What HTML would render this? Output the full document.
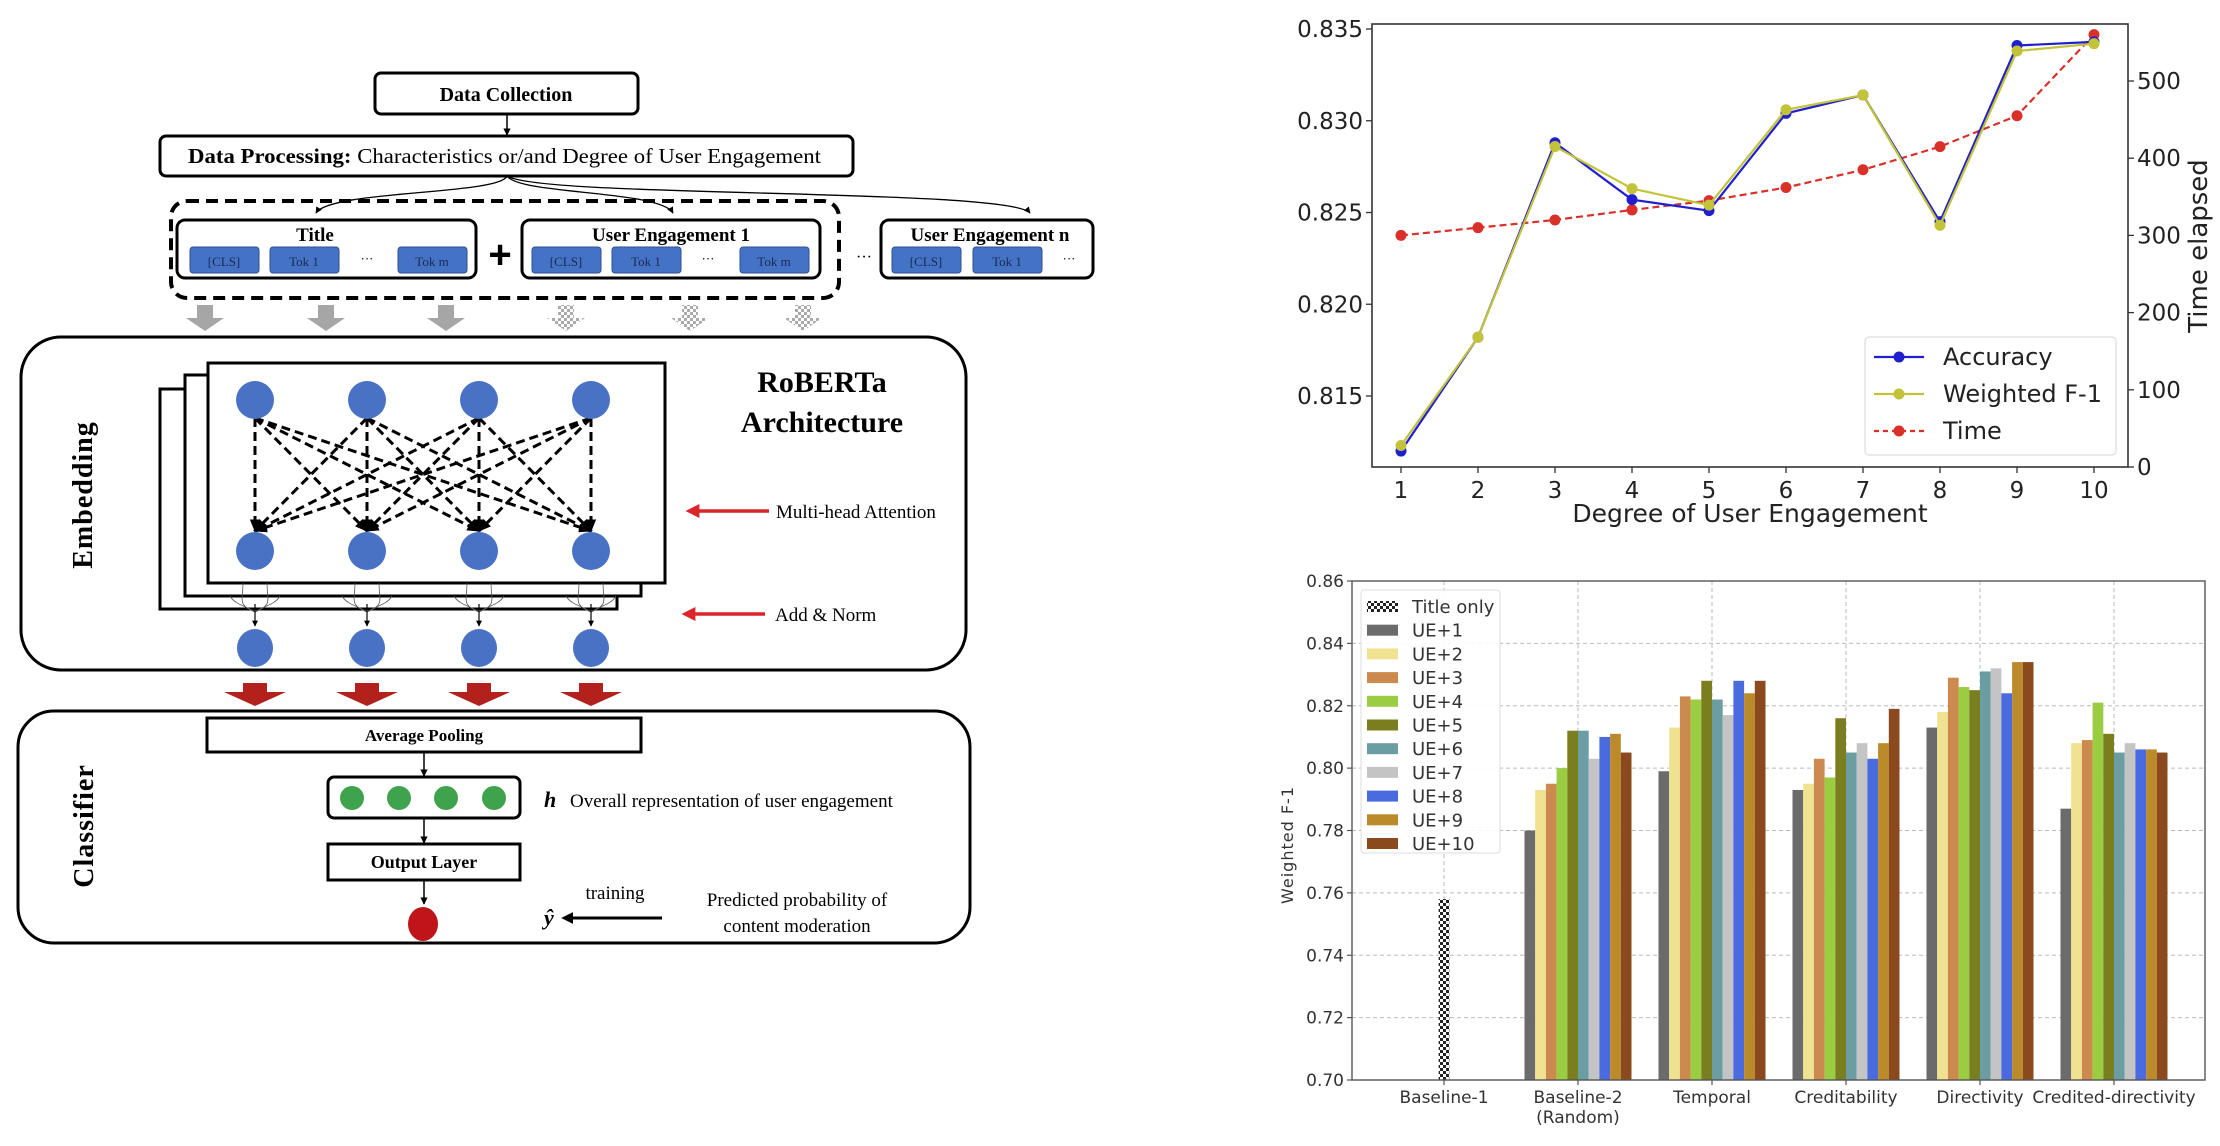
<!DOCTYPE html>
<html><head><meta charset="utf-8">
<style>
html,body{margin:0;padding:0;background:#fff;}
svg{display:block;}
.serif{font-family:"Liberation Serif",serif;}
.sans{font-family:"Liberation Sans Narrow","DejaVu Sans","Liberation Sans",sans-serif;}
</style></head>
<body>
<svg id="root" width="2220" height="1146" viewBox="0 0 2220 1146" xmlns="http://www.w3.org/2000/svg">
<defs>
<marker id="ah" viewBox="0 0 10 10" refX="9" refY="5" markerWidth="5" markerHeight="5" orient="auto"><path d="M0,0 L10,5 L0,10 z" fill="#000"/></marker>
<marker id="ahs" viewBox="0 0 10 10" refX="9" refY="5" markerUnits="userSpaceOnUse" markerWidth="13" markerHeight="13" orient="auto"><path d="M0,1 L10,5 L0,9 z" fill="#000"/></marker>
<marker id="ahr" viewBox="0 0 10 10" refX="1" refY="5" markerWidth="4" markerHeight="4" orient="auto-start-reverse"><path d="M0,0 L10,5 L0,10 z" fill="#d9262a"/></marker>
<marker id="ahk" viewBox="0 0 10 10" refX="1" refY="5" markerWidth="4" markerHeight="4" orient="auto-start-reverse"><path d="M0,0 L10,5 L0,10 z" fill="#000"/></marker>
<pattern id="checker" width="6" height="6" patternUnits="userSpaceOnUse"><rect width="6" height="6" fill="#fff"/><rect width="3" height="3" fill="#222"/><rect x="3" y="3" width="3" height="3" fill="#222"/></pattern>
<pattern id="checkerg" width="6" height="6" patternUnits="userSpaceOnUse"><rect width="6" height="6" fill="#fff"/><rect width="3" height="3" fill="#aaa"/><rect x="3" y="3" width="3" height="3" fill="#aaa"/></pattern>
</defs>

<g id="diagram" class="serif">
  <g>
    <rect x="375" y="73" width="263" height="41" rx="6" fill="#fff" stroke="#000" stroke-width="3"/>
    <text x="506" y="101" font-size="20" font-weight="bold" text-anchor="middle">Data Collection</text>
  </g>
  <line x1="507" y1="114" x2="507" y2="135" stroke="#000" stroke-width="1.5" marker-end="url(#ah)"/>
  <g>
    <rect x="160" y="136" width="693" height="40" rx="6" fill="#fff" stroke="#000" stroke-width="3"/>
    <text x="188" y="163" font-size="21" textLength="633" lengthAdjust="spacingAndGlyphs"><tspan font-weight="bold">Data Processing:</tspan> Characteristics or/and Degree of User Engagement</text>
  </g>
  <path d="M507,176 C500,195 330,190 316,213" fill="none" stroke="#000" stroke-width="1.3" marker-end="url(#ah)"/>
  <path d="M507,176 C520,195 660,190 673,213" fill="none" stroke="#000" stroke-width="1.3" marker-end="url(#ah)"/>
  <path d="M507,176 C540,198 1010,188 1030,213" fill="none" stroke="#000" stroke-width="1.3" marker-end="url(#ah)"/>

  <rect x="171" y="201" width="668" height="97" rx="16" fill="none" stroke="#000" stroke-width="4" stroke-dasharray="12,7"/>

  <g>
    <rect x="177" y="220" width="299" height="58" rx="8" fill="#fff" stroke="#000" stroke-width="3"/>
    <text x="315" y="241" font-size="19" font-weight="bold" text-anchor="middle">Title</text>
  </g>
  <g>
    <rect x="522" y="220" width="298" height="58" rx="8" fill="#fff" stroke="#000" stroke-width="3"/>
    <text x="671" y="241" font-size="19" font-weight="bold" text-anchor="middle">User Engagement 1</text>
  </g>
  <g>
    <rect x="881" y="220" width="212" height="58" rx="8" fill="#fff" stroke="#000" stroke-width="3"/>
    <text x="990" y="241" font-size="19" font-weight="bold" text-anchor="middle">User Engagement n</text>
  </g>
  <text x="500" y="268" font-size="40" font-weight="bold" text-anchor="middle" font-family="Liberation Sans,sans-serif">+</text>
  <text x="864" y="262" font-size="16" text-anchor="middle">···</text>
  <g id="tokens"></g>

  <g id="grayArrows"></g>

  <g>
    <rect x="21" y="337" width="945" height="333" rx="40" fill="#fff" stroke="#000" stroke-width="3"/>
    <text transform="translate(92,495) rotate(-90)" font-size="28" font-weight="bold" text-anchor="middle" letter-spacing="1">Embedding</text>
  </g>
  <rect x="160" y="389" width="457" height="220" fill="#fff" stroke="#000" stroke-width="3"/>
  <rect x="185" y="375" width="456" height="221" fill="#fff" stroke="#000" stroke-width="3"/>
  <rect x="208" y="363" width="457" height="220" fill="#fff" stroke="#000" stroke-width="3"/>
  <g id="attn"></g>
  <text x="822" y="392" font-size="30" font-weight="bold" text-anchor="middle">RoBERTa</text>
  <text x="822" y="432" font-size="30" font-weight="bold" text-anchor="middle">Architecture</text>
  <line x1="769" y1="511" x2="698" y2="511" stroke="#d9262a" stroke-width="3.5" marker-end="url(#ahr)"/>
  <text x="776" y="518" font-size="19">Multi-head Attention</text>
  <line x1="765" y1="614" x2="694" y2="614" stroke="#d9262a" stroke-width="3.5" marker-end="url(#ahr)"/>
  <text x="775" y="621" font-size="19">Add &amp; Norm</text>
  <g id="redArrows"></g>

  <g>
    <rect x="18" y="711" width="952" height="232" rx="36" fill="#fff" stroke="#000" stroke-width="3"/>
    <text transform="translate(93,826) rotate(-90)" font-size="28" font-weight="bold" text-anchor="middle" letter-spacing="1">Classifier</text>
  </g>
  <rect x="207" y="718" width="434" height="34" fill="#fff" stroke="#000" stroke-width="3"/>
  <text x="424" y="741" font-size="17" font-weight="bold" text-anchor="middle">Average Pooling</text>
  <line x1="424" y1="752" x2="424" y2="776" stroke="#000" stroke-width="1.5" marker-end="url(#ah)"/>
  <rect x="328" y="777" width="192" height="41" rx="6" fill="#fff" stroke="#000" stroke-width="3"/>
  <circle cx="352" cy="798" r="12" fill="#3fa34d"/><circle cx="399" cy="798" r="12" fill="#3fa34d"/>
  <circle cx="446" cy="798" r="12" fill="#3fa34d"/><circle cx="494" cy="798" r="12" fill="#3fa34d"/>
  <text x="544" y="807" font-size="22" font-weight="bold" font-style="italic">h</text>
  <text x="570" y="807" font-size="19">Overall representation of user engagement</text>
  <line x1="424" y1="818" x2="424" y2="843" stroke="#000" stroke-width="1.5" marker-end="url(#ah)"/>
  <rect x="328" y="844" width="192" height="36" fill="#fff" stroke="#000" stroke-width="3"/>
  <text x="424" y="868" font-size="18" font-weight="bold" text-anchor="middle">Output Layer</text>
  <line x1="424" y1="880" x2="424" y2="904" stroke="#000" stroke-width="1.5" marker-end="url(#ah)"/>
  <ellipse cx="423" cy="924" rx="15" ry="17" fill="#c0141b"/>
  <text x="544" y="925" font-size="22" font-style="italic" font-weight="bold">ŷ</text>
  <line x1="662" y1="918" x2="572" y2="918" stroke="#000" stroke-width="3" marker-end="url(#ahk)"/>
  <text x="615" y="899" font-size="19" text-anchor="middle">training</text>
  <text x="797" y="906" font-size="19" text-anchor="middle">Predicted probability of</text>
  <text x="797" y="932" font-size="19" text-anchor="middle">content moderation</text>
</g>

<g id="lineChart" class="sans"></g>
<g id="barChart" class="sans"></g>
</svg>

<script>
const NS = "http://www.w3.org/2000/svg";
function mk(parent, tag, attrs, text){
  const e = document.createElementNS(NS, tag);
  for (const k in attrs) e.setAttribute(k, attrs[k]);
  if (text !== undefined) e.textContent = text;
  parent.appendChild(e);
  return e;
}

const degrees = [1,2,3,4,5,6,7,8,9,10];
const accuracy = [0.8120,0.8182,0.8288,0.8257,0.8251,0.8304,0.8314,0.8245,0.8341,0.8343];
const weightedF1 = [0.8123,0.8182,0.8286,0.8263,0.8254,0.8306,0.8314,0.8243,0.8338,0.8342];
const timeElapsed = [300,310,320,333,345,362,385,415,455,560];
const leftTicks = [0.815,0.820,0.825,0.830,0.835];
const rightTicks = [0,100,200,300,400,500];

const groups = ["Baseline-1","Baseline-2\n(Random)","Temporal","Creditability","Directivity","Credited-directivity"];
const titleOnly = [0.758];
const ueNames = ["UE+1","UE+2","UE+3","UE+4","UE+5","UE+6","UE+7","UE+8","UE+9","UE+10"];
const ueColors = ["#6b6b6b","#efe291","#cd8a4e","#9acd42","#7a7e1e","#6a9ea2","#c4c4c4","#4a6be0","#bb8a2a","#8b4a1e"];
const baseline2 = [0.780,0.793,0.795,0.800,0.812,0.812,0.803,0.810,0.811,0.805];
const temporal = [0.799,0.813,0.823,0.822,0.828,0.822,0.817,0.828,0.824,0.828];
const creditability = [0.793,0.795,0.803,0.797,0.816,0.805,0.808,0.803,0.808,0.819];
const directivity = [0.813,0.818,0.829,0.826,0.825,0.831,0.832,0.824,0.834,0.834];
const creditedDir = [0.787,0.808,0.809,0.821,0.811,0.805,0.808,0.806,0.806,0.805];
const barTicks = [0.70,0.72,0.74,0.76,0.78,0.80,0.82,0.84,0.86];

(function(){
  const g = document.getElementById('tokens');
  const sets = [[190,270,398,367],[532,612,740,708],[892,973,1054,1069]];
  sets.forEach((s,si)=>{
    const labels = ["[CLS]","Tok 1","Tok m"];
    [0,1,2].forEach(i=>{
      if (si===2 && i===2) return;
      const r = mk(g,'rect',{x:s[i],y:247,width:69,height:26,rx:3,fill:'#4472c4',stroke:'#2f528f','stroke-width':1});
      
      
      mk(g,'text',{x:s[i]+34,y:266,'font-size':13,'text-anchor':'middle',fill:'#1a2a55'},labels[i]);
    });
    mk(g,'text',{x:s[3],y:263,'font-size':13,'text-anchor':'middle'},'···');
  });
  const ga = document.getElementById('grayArrows');
  [[205,'#a6a6a6'],[326,'#a6a6a6'],[446,'#a6a6a6'],[566,'url(#checkerg)'],[690,'url(#checkerg)'],[803,'url(#checkerg)']].forEach(a=>{
    const x=a[0];
    const p = mk(ga,'path',{d:`M${x-8},305 L${x+8},305 L${x+8},318 L${x+19},318 L${x},331 L${x-19},318 L${x-8},318 Z`,fill:a[1]});
    
    
  });
  const at = document.getElementById('attn');
  const xs = [255,367,479,591];
  xs.forEach(x1=>xs.forEach(x2=>{
    mk(at,'line',{x1:x1,y1:418,x2:x2,y2:531,stroke:'#000','stroke-width':3,'stroke-dasharray':'9,5','marker-end':'url(#ahs)'});
  }));
  xs.forEach(x=>{
    const c1 = mk(at,'ellipse',{cx:x,cy:400,rx:19,ry:19,fill:'#4a72c4'});
    
    
    const c2 = mk(at,'ellipse',{cx:x,cy:551,rx:19,ry:19,fill:'#4a72c4'});
    
    
    mk(at,'path',{d:`M${x-12},583 C${x-12},600 ${x-18},605 ${x},612 M${x+12},583 C${x+12},600 ${x+18},605 ${x},612 M${x-25},596 C${x-20},605 ${x-8},606 ${x},612 M${x+25},596 C${x+20},605 ${x+8},606 ${x},612`,fill:'none',stroke:'#555','stroke-width':0.8});
    mk(at,'line',{x1:x,y1:604,x2:x,y2:626,stroke:'#000','stroke-width':1.2,'marker-end':'url(#ah)'});
    const c3 = mk(at,'ellipse',{cx:x,cy:648,rx:18,ry:19,fill:'#4a72c4'});
    
    
  });
  const ra = document.getElementById('redArrows');
  xs.forEach(x=>{
    const p = mk(ra,'path',{d:`M${x-12},683 L${x+12},683 L${x+12},692 L${x+31},692 L${x},706 L${x-31},692 L${x-12},692 Z`,fill:'#b3211d'});
    
    
  });
})();

(function(){
  const g = document.getElementById('lineChart');
  const L=1372, R=2128, T=24, B=467;
  const xS = d => 1401 + (d-1)*77;
  const yL = v => 29 + (0.835 - v)/0.005*91.75;
  const yR = v => 467 - v/100*77.2;
  mk(g,'rect',{x:L,y:T,width:R-L,height:B-T,fill:'#fff',stroke:'#333','stroke-width':1.6});
  leftTicks.forEach(t=>{
    const y=yL(t);
    mk(g,'line',{x1:L-6,y1:y,x2:L,y2:y,stroke:'#333','stroke-width':1.3});
    const tx = mk(g,'text',{x:L-9,y:y+8,'font-size':23,'text-anchor':'end',fill:'#222'},t.toFixed(3));
    
    
  });
  rightTicks.forEach(t=>{
    const y=yR(t);
    mk(g,'line',{x1:R,y1:y,x2:R+6,y2:y,stroke:'#333','stroke-width':1.3});
    const tx = mk(g,'text',{x:R+9,y:y+8,'font-size':23,fill:'#222'},String(t));
    
    
  });
  degrees.forEach(d=>{
    const x=xS(d);
    mk(g,'line',{x1:x,y1:B,x2:x,y2:B+6,stroke:'#333','stroke-width':1.3});
    const tx = mk(g,'text',{x:x,y:B+31,'font-size':23,'text-anchor':'middle',fill:'#222'},String(d));
    
    
  });
  const xl = mk(g,'text',{x:1750,y:522,'font-size':25,'text-anchor':'middle',fill:'#222'},'Degree of User Engagement');
  
  
  const yl = mk(g,'text',{transform:'translate(2207,246) rotate(-90)','font-size':26,'text-anchor':'middle',fill:'#222'},'Time elapsed');
  
  

  function series(vals, yf, color, dash, name){
    const pts = vals.map((v,i)=>xS(degrees[i])+','+yf(v)).join(' ');
    const pl = mk(g,'polyline',{points:pts,fill:'none',stroke:color,'stroke-width':2.2,'stroke-dasharray':dash||'none'});
    
    
    vals.forEach((v,i)=>{
      const c = mk(g,'circle',{cx:xS(degrees[i]),cy:yf(v),r:5.5,fill:color});
      
      
    });
  }
  series(timeElapsed, yR, '#d9302a', '7,4', 'time');
  series(accuracy, yL, '#1f1fd0', null, 'accuracy');
  series(weightedF1, yL, '#c3c33a', null, 'weighted-f1');

  const lg = mk(g,'g',{});
  
  
  mk(lg,'rect',{x:1865,y:337,width:251,height:118,rx:4,fill:'#fff',stroke:'#ddd','stroke-width':1.2});
  const items = [['Accuracy','#1f1fd0',null],['Weighted F-1','#c3c33a',null],['Time','#d9302a','5,4']];
  items.forEach((it,i)=>{
    const y = 357 + i*37;
    const e = mk(lg,'g',{});
    
    
    mk(e,'line',{x1:1874,y1:y,x2:1924,y2:y,stroke:it[1],'stroke-width':2.2,'stroke-dasharray':it[2]||'none'});
    mk(e,'circle',{cx:1899,cy:y,r:5.5,fill:it[1]});
    mk(e,'text',{x:1943,y:y+8,'font-size':24,fill:'#222'},it[0]);
  });
})();

(function(){
  const g = document.getElementById('barChart');
  const L=1352, R=2205, T=581, B=1080;
  const yS = v => B - (v-0.70)/0.16*(B-T);
  const cx = i => 1444 + i*134;
  const bw = 10.7;
  mk(g,'rect',{x:L,y:T,width:R-L,height:B-T,fill:'#fff'});
  barTicks.forEach(t=>{
    const y=yS(t);
    mk(g,'line',{x1:L,y1:y,x2:R,y2:y,stroke:'#bbb','stroke-width':1,'stroke-dasharray':'4,3'});
    mk(g,'line',{x1:L-5,y1:y,x2:L,y2:y,stroke:'#555','stroke-width':1.2});
    const tx = mk(g,'text',{x:L-8,y:y+6,'font-size':17,'text-anchor':'end',fill:'#333'},t.toFixed(2));
    
    
  });
  groups.forEach((name,i)=>{
    const x=cx(i);
    mk(g,'line',{x1:x,y1:T,x2:x,y2:B,stroke:'#bbb','stroke-width':1,'stroke-dasharray':'4,3'});
    mk(g,'line',{x1:x,y1:B,x2:x,y2:B+5,stroke:'#555','stroke-width':1.2});
    name.split('\n').forEach((ln,k)=>{
      const tx = mk(g,'text',{x:x,y:B+23+k*20,'font-size':17,'text-anchor':'middle',fill:'#333'},ln);
      
      
    });
  });
  const tb = mk(g,'rect',{x:cx(0)-bw/2,y:yS(titleOnly[0]),width:bw,height:B-yS(titleOnly[0]),fill:'url(#checker)'});
  
  
  const series = [baseline2, temporal, creditability, directivity, creditedDir];
  series.forEach((vals,gi)=>{
    const c = cx(gi+1);
    vals.forEach((v,k)=>{
      const x = c - 5*bw + k*bw;
      const r = mk(g,'rect',{x:x,y:yS(v),width:bw,height:B-yS(v),fill:ueColors[k]});
      
      
    });
  });
  mk(g,'rect',{x:L,y:T,width:R-L,height:B-T,fill:'none',stroke:'#555','stroke-width':1.4});
  const yl = mk(g,'text',{transform:'translate(1293,845) rotate(-90)','font-size':16,'text-anchor':'middle',fill:'#333','letter-spacing':'1'},'Weighted F-1');
  
  
  const lg = mk(g,'g',{});
  
  
  mk(lg,'rect',{x:1361,y:590,width:139,height:263,rx:3,fill:'#fff','fill-opacity':0.9,stroke:'#ddd','stroke-width':1});
  const names = ['Title only'].concat(ueNames);
  const fills = ['url(#checker)'].concat(ueColors);
  names.forEach((n,i)=>{
    const y = 601 + i*23.7;
    const e = mk(lg,'g',{});
    
    
    mk(e,'rect',{x:1367,y:y,width:31,height:11,fill:fills[i]});
    mk(e,'text',{x:1412,y:y+12,'font-size':18,fill:'#333'},n);
  });
})();
</script>
</body></html>
